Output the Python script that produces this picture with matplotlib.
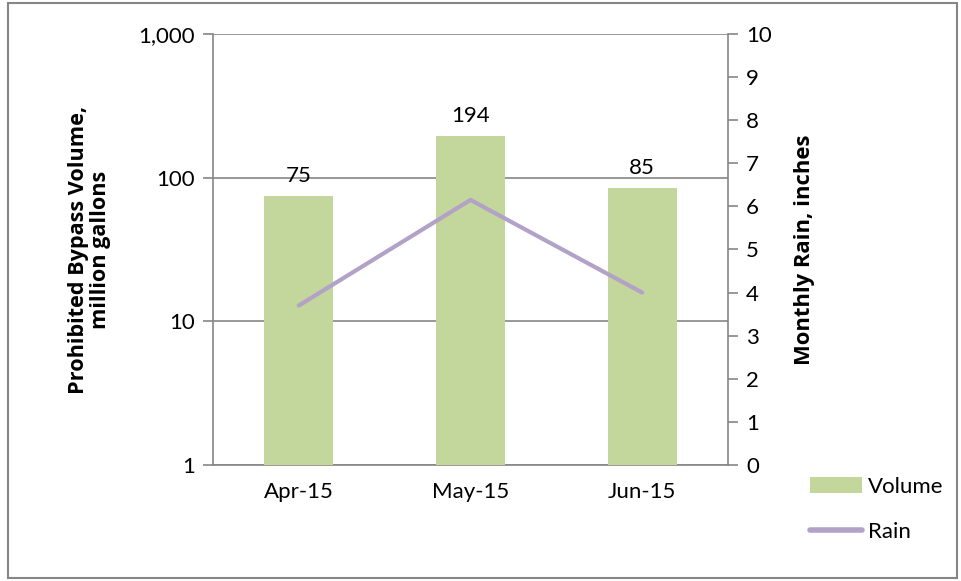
import matplotlib
matplotlib.use("Agg")
import matplotlib.pyplot as plt
from matplotlib.patches import Rectangle
from matplotlib.lines import Line2D
from matplotlib.patches import Patch

# 数据
months = ['Apr-15', 'May-15', 'Jun-15']
volume = [75, 194, 85]
rain = [3.7, 6.15, 4.0]
left_ticks = [1, 10, 100, 1000]
left_labels = ['1', '10', '100', '1,000']
right_ticks = list(range(0, 11))

bar_color = '#C3D69B'
line_color = '#B3A2C7'
axis_color = '#868686'

plt.rcParams['font.family'] = ['Lato', 'DejaVu Sans']
plt.rcParams['font.size'] = 16
label_font = ['Open Sans', 'Noto Sans', 'DejaVu Sans']

fig = plt.figure(figsize=(9.62, 5.81), dpi=100)
ax = fig.add_axes([0.2214, 0.1997, 0.5354, 0.7418])
ax2 = ax.twinx()

x = range(len(months))
ax.bar(x, volume, width=0.40, color=bar_color, zorder=3)
for xi, v in zip(x, volume):
    ax.annotate(str(v), (xi, v), xytext=(0, 10), textcoords='offset points',
                ha='center', va='baseline', fontsize=16)

ax.set_yscale('log')
ax.set_ylim(1, 1000)
ax.set_xlim(-0.5, 2.5)
ax.set_yticks(left_ticks)
ax.set_yticklabels(left_labels)
ax.yaxis.set_minor_locator(matplotlib.ticker.NullLocator())
ax.set_xticks(list(x))
ax.set_xticklabels(months)
ax.grid(axis='y', color=axis_color, linewidth=1.2, zorder=0)
ax.set_axisbelow(True)
ax.tick_params(axis='y', length=7, width=1.2, color=axis_color, pad=6)
ax.tick_params(axis='x', length=0, pad=12)
ax.set_ylabel('Prohibited Bypass Volume,\nmillion gallons', fontweight='bold', fontsize=15.6,
              family=label_font, labelpad=20, linespacing=1.05)

ax2.plot(list(x), rain, color=line_color, linewidth=3, solid_capstyle='round', zorder=4)
ax2.set_ylim(0, 10)
ax2.set_yticks(right_ticks)
ax2.tick_params(axis='y', length=7, width=1.2, color=axis_color, pad=6)
ax2.set_ylabel('Monthly Rain, inches', fontweight='bold', fontsize=15.8,
               family=label_font, labelpad=16)

for a in (ax, ax2):
    for side in ('top', 'right', 'left', 'bottom'):
        a.spines[side].set_visible(False)
ax.spines['left'].set_visible(True)
ax.spines['bottom'].set_visible(True)
ax2.spines['right'].set_visible(True)
for s in (ax.spines['left'], ax.spines['bottom'], ax2.spines['right']):
    s.set_color(axis_color)
    s.set_linewidth(1.2)

handles = [Patch(facecolor=bar_color, edgecolor='none'),
           Line2D([0], [0], color=line_color, linewidth=4, solid_capstyle='round')]
fig.legend(handles, ['Volume', 'Rain'], loc='lower left', bbox_to_anchor=(0.826, 0.04),
           frameon=False, fontsize=16, handlelength=2.35, labelspacing=1.15,
           handletextpad=0.25, borderpad=0.2)

# 外框
fig.patches.append(Rectangle((8 / 962, 3 / 581), 949 / 962, 575 / 581,
                             transform=fig.transFigure, fill=False,
                             edgecolor=axis_color, linewidth=1.5))

plt.savefig('out.png', dpi=100)
